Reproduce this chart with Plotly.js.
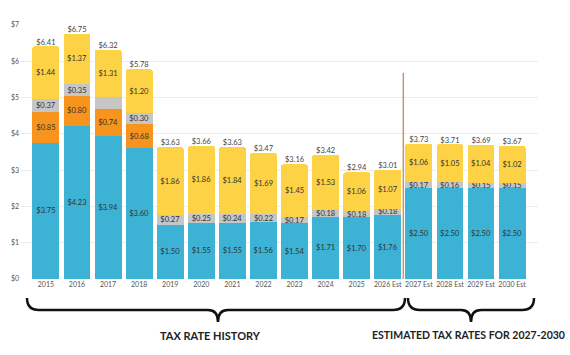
<!DOCTYPE html>
<html>
<head>
<meta charset="utf-8">
<script src="https://cdn.plot.ly/plotly-3.0.1.min.js"></script>
<style>html,body{margin:0;padding:0;background:#fff;}#chart{width:570px;height:355px;}</style>
</head>
<body>
<div id="chart"></div>
<script>
const years = ['2015','2016','2017','2018','2019','2020','2021','2022','2023','2024','2025','2026 Est','2027 Est','2028 Est','2029 Est','2030 Est'];
const blueVals   = [3.75,4.23,3.94,3.60,1.50,1.55,1.55,1.56,1.54,1.71,1.70,1.76,2.50,2.50,2.50,2.50];
const orangeVals = [0.85,0.80,0.74,0.68,0,0,0,0,0,0,0,0,0,0,0,0];
const grayVals   = [0.37,0.35,0.33,0.30,0.27,0.25,0.24,0.22,0.17,0.18,0.18,0.18,0.17,0.16,0.15,0.15];
const grayShown  = [true,true,false,true,true,true,true,true,true,true,true,true,true,true,true,true];
const yellowVals = [1.44,1.37,1.31,1.20,1.86,1.86,1.84,1.69,1.45,1.53,1.06,1.07,1.06,1.05,1.04,1.02];
const totals     = [6.41,6.75,6.32,5.78,3.63,3.66,3.63,3.47,3.16,3.42,2.94,3.01,3.73,3.71,3.69,3.67];
const yTicks = [0,1,2,3,4,5,6,7];
const groupLabels = ['TAX RATE HISTORY','ESTIMATED TAX RATES FOR 2027-2030'];

const fmt = v => '$' + v.toFixed(2);
const labelFont = {family:'Lato, "Open Sans", sans-serif', size:7.5, color:'#333'};

function seg(vals, color, name, shown){
  return {
    type:'bar', x:years, y:vals, name:name,
    marker:{color:color, line:{width:0}},
    text: vals.map((v,i)=> (v>0 && (!shown || shown[i])) ? fmt(v) : ''),
    textposition:'inside', insidetextanchor:'middle',
    textfont: labelFont, cliponaxis:false, hoverinfo:'skip'
  };
}

const data = [
  seg(blueVals,'#3cb2d5','Blue'),
  seg(orangeVals,'#f7941e','Orange'),
  seg(grayVals,'#c6c6c6','Gray',grayShown),
  seg(yellowVals,'#fed245','Yellow'),
  {type:'scatter', mode:'text', x:years, y:totals, text:totals.map(fmt),
   textposition:'top center', textfont:{family:'Lato, "Open Sans", sans-serif', size:7.5, color:'#444'},
   cliponaxis:false, hoverinfo:'skip', showlegend:false}
];

const W=570, H=355, mL=20, mR=32, mT=25, mB=76;
const px2x = p => (p - mL)/(W - mL - mR);
const px2y = p => (H - mB - p)/(H - mT - mB);
function brace(x0, x1, tip){
  const yt=298, ym=310, yb=322;
  const pts = [
    ['M', x0, yt], ['Q', x0, ym, x0+12, ym], ['L', tip-10, ym], ['Q', tip, ym, tip, yb],
    ['Q', tip, ym, tip+10, ym], ['L', x1-12, ym], ['Q', x1, ym, x1, yt]
  ];
  return pts.map(p => {
    let s = p[0];
    for(let i=1;i<p.length;i+=2){ s += ' ' + px2x(p[i]).toFixed(4) + ',' + px2y(p[i+1]).toFixed(4); }
    return s;
  }).join(' ');
}

const layout = {
  width:W, height:H,
  margin:{l:mL, r:mR, t:mT, b:mB},
  paper_bgcolor:'#fff', plot_bgcolor:'#fff',
  barmode:'stack', bargap:0.135, barcornerradius:2,
  showlegend:false,
  uniformtext:{mode:'show', minsize:7.5},
  font:{family:'Lato, "Open Sans", sans-serif', color:'#555'},
  xaxis:{type:'category', tickfont:{size:7, color:'#555'}, showgrid:false, zeroline:false, showline:false, ticks:'', fixedrange:true},
  yaxis:{range:[0,7], tickvals:yTicks, ticktext:yTicks.map(v=>'$'+v), tickfont:{size:7, color:'#555'},
         showgrid:true, gridcolor:'#ececec', gridwidth:1, zeroline:false, showline:false, ticks:'', fixedrange:true},
  shapes:[
    {type:'line', xref:'x', yref:'y', x0:11.5, x1:11.5, y0:-0.25, y1:5.68, line:{color:'#c9966a', width:1.5}, layer:'above'},
    {type:'path', xref:'paper', yref:'paper', path:brace(27,405,218), line:{color:'#111', width:2.5}},
    {type:'path', xref:'paper', yref:'paper', path:brace(408,534,471), line:{color:'#111', width:2.5}}
  ],
  annotations:[
    {xref:'paper', yref:'paper', x:px2x(210), y:px2y(335), text:groupLabels[0], showarrow:false,
     font:{family:'Lato, sans-serif', size:11, color:'#222', weight:'bold'}, xanchor:'center', yanchor:'middle'},
    {xref:'paper', yref:'paper', x:px2x(468), y:px2y(335), text:groupLabels[1], showarrow:false,
     font:{family:'Lato, sans-serif', size:10.5, color:'#222', weight:'bold'}, xanchor:'center', yanchor:'middle'}
  ]
};

Plotly.newPlot('chart', data, layout, {displayModeBar:false, staticPlot:true});
</script>
</body>
</html>
